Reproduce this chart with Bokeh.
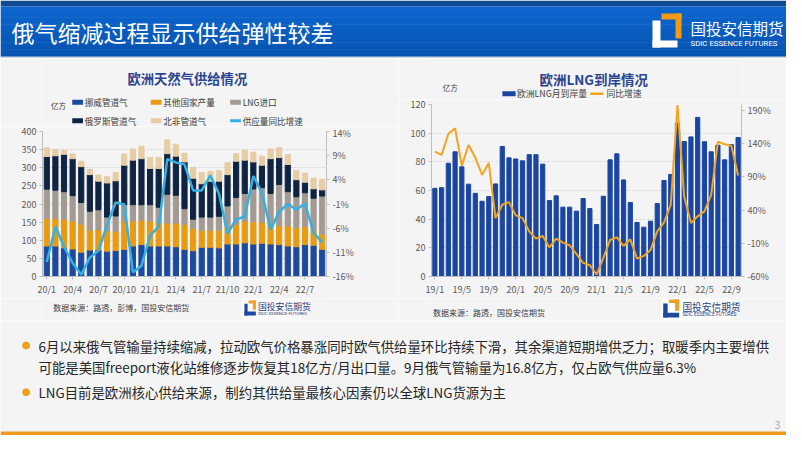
from bokeh.plotting import figure
from bokeh.layouts import column, row
from bokeh.models import Range1d, LinearAxis, FixedTicker, ColumnDataSource
from bokeh.core.properties import value
from bokeh.embed import file_html
from bokeh.resources import INLINE

FONT = "Noto Sans CJK SC"
BG = "#f4f4f4"

# ---------------- data: left chart (20/1 .. 22/9), 亿方 ----------------
norway = [84, 84, 79, 76, 67, 73, 73, 70, 71.5, 75, 84, 88, 84, 84, 84, 82, 75, 71,
          80.5, 80.5, 79, 89.6, 89.6, 93, 89.6, 91.4, 89.6, 88, 84, 82, 88, 86, 75]
other_prod = [76, 76, 78, 77, 77, 55, 56, 56, 52.5, 76, 69, 67, 69, 65, 63, 65, 69, 62,
              47, 47, 48.6, 45.4, 54.4, 60, 61.4, 57.6, 54.4, 52, 56, 53, 50, 41.6, 42]
lng_import = [81, 78, 77, 70, 60, 52, 55, 38, 43, 47, 45, 43, 45, 42, 80, 77, 43, 25,
              36.4, 36.4, 38.4, 59.6, 74, 76, 90.6, 96, 85, 114, 94, 85, 93, 88.4, 105]
russia = [90, 95, 103, 102, 99, 101, 79, 94, 97, 109, 123, 127, 100, 107, 112, 108, 129, 113,
          92, 99, 97, 86.4, 100, 92, 74.4, 62, 96, 74, 75, 47, 29, 26, 17]
north_africa = [24, 17, 11, 13, 15, 15, 17, 18, 23, 31, 31, 34, 30, 30, 38, 33, 24, 30,
                31, 27, 29, 33, 21, 27, 27, 25, 27, 28, 27, 25, 25, 29, 29]
supply_yoy = [-13, -5.7, -9.8, -13.2, -15.6, -12.1, -10.7, -5.3, -0.7, -1.1, -15.1, -13.8,
              -7.5, -5.7, 8.3, 7.6, 7.2, 1.8, 1.8, 4.9, 1.2, -7.1, -4.2, -3.6,
              4.8, 1.3, -6.3, -2.6, -1, -2.2, -0.9, -6.9, -9]
left_tick_pos = [0, 3, 6, 9, 12, 15, 18, 21, 24, 27, 30]
left_tick_labels = ["20/1", "20/4", "20/7", "20/10", "21/1", "21/4", "21/7",
                    "21/10", "22/1", "22/4", "22/7"]
left_y_ticks = [0, 50, 100, 150, 200, 250, 300, 350, 400]
left_pct_ticks = [-16, -11, -6, -1, 4, 9, 14]

# ---------------- data: right chart (19/1 .. 22/10) ----------------
lng_arrivals = [61.5, 62, 79, 87, 76.5, 64.4, 58, 52.5, 55.8, 64.6, 90.7, 82.8,
                82, 80.7, 85, 85, 78.4, 53, 56.3, 48.4, 48.4, 45.6, 54.4, 47.4,
                36.3, 56, 81.4, 85.6, 67.4, 51.6, 37.7, 34.4, 38.6, 50.9, 67, 71.2,
                107, 94.2, 97.4, 111, 94, 87, 91.6, 81.4, 92, 97]
lng_yoy = [128, 123, 155, 163, 107, 138, 119, 93, 111, 28, 48, 52,
           32, 28, 8, -3, 1, -16, -3, -9, -13, -26, -39.5, -43,
           -57, -32, -5, -1, -14, -4, -33, -29, -20, 8, 21, 48,
           198, 60, 20.5, 30.6, 38, 63, 143, 139, 137, 92]
right_tick_pos = [0, 4, 8, 12, 16, 20, 24, 28, 32, 36, 40, 44]
right_tick_labels = ["19/1", "19/5", "19/9", "20/1", "20/5", "20/9", "21/1",
                     "21/5", "21/9", "22/1", "22/5", "22/9"]
right_y_ticks = [0, 20, 40, 60, 80, 100, 120]
right_pct_ticks = [-60, -10, 40, 90, 140, 190]

# colours
C_NOR, C_OTH, C_LNG, C_RUS, C_NAF = "#1d4a9e", "#e89b10", "#a39a93", "#0f2442", "#e6cda4"
C_SUP = "#33b1e3"
C_RBAR, C_RLINE = "#1a46a2", "#f3a41d"
C_TITLE = "#2a4592"
C_TXT = "#404040"


def canvas(w, h, bg=BG):
    p = figure(width=w, height=h, x_range=Range1d(0, w), y_range=Range1d(h, 0),
               output_backend="svg", toolbar_location=None, x_axis_type=None,
               y_axis_type=None, min_border=0, min_border_left=0, min_border_right=0,
               min_border_top=0, min_border_bottom=0,
               background_fill_color=bg, border_fill_color=bg, outline_line_color=None)
    p.grid.visible = False
    return p


def txt(p, x, y, s, size, color=C_TXT, align="left", bold=False, font=FONT):
    p.text(x=[x], y=[y], text=[s], text_font=value(font), text_font_size=f"{size}px",
           text_color=color, text_align=align, text_baseline="middle",
           text_font_style="bold" if bold else "normal")


def box(p, l, r, t, b, color):
    p.quad(left=[l], right=[r], top=[t], bottom=[b], fill_color=color, line_color=None)


def small_logo(p, x0, y0, w, h, tx, ty, fs):
    box(p, x0, x0 + 0.28 * w, y0 + 0.22 * h, y0 + h, "#1d4a9e")
    box(p, x0, x0 + w, y0 + 0.74 * h, y0 + h, "#1d4a9e")
    box(p, x0 + 0.36 * w, x0 + w, y0, y0 + 0.2 * h, "#f0a020")
    box(p, x0 + 0.74 * w, x0 + w, y0, y0 + 0.62 * h, "#f0a020")
    txt(p, tx, ty, "国投安信期货", fs, "#1f3f7f")
    txt(p, tx, ty + fs * 0.8, "SDIC ESSENCE FUTURES", fs * 0.5, "#1f3f7f", font="Roboto")


def style_axis(ax):
    ax.axis_line_color = "#bfbfbf"
    ax.major_tick_line_color = "#bfbfbf"
    ax.major_tick_out = 3
    ax.major_tick_in = 0
    ax.minor_tick_out = 0
    ax.minor_tick_in = 0
    ax.major_label_standoff = 3
    ax.major_label_text_font = FONT
    ax.major_label_text_font_size = "9px"
    ax.major_label_text_color = "#595959"


# ---------------- header (page y 0-58) ----------------
W = 786
header = canvas(W, 58)
box(header, 0, W, 0, 6, "#0d4a8f")
strips = 14
for i in range(strips):
    t = i / (strips - 1)
    r_ = int(12 + (7 - 12) * t)
    g_ = int(102 + (84 - 102) * t)
    b_ = int(206 + (178 - 206) * t)
    box(header, 0, W, 6 + i * 50 / strips, 6 + (i + 1) * 50 / strips + 0.5,
        "#%02x%02x%02x" % (r_, g_, b_))
box(header, 0, W, 56, 58, "#d0d6df")
txt(header, 11, 31.5, "俄气缩减过程显示供给弹性较差", 23, "white")
# header logo
box(header, 652, 660, 20, 47, "white")
box(header, 652, 677, 40, 47, "white")
box(header, 661, 681, 13, 19, "#f39a12")
box(header, 675, 681, 13, 38, "#f39a12")
txt(header, 690, 27, "国投安信期货", 15.5, "white")
txt(header, 690, 43, "SDIC ESSENCE FUTURES", 7.8, "white", font="Roboto")

# ---------------- left panel (page x 0-398) ----------------
LW = 398
top_l = canvas(LW, 68)            # page y 58-126
txt(top_l, 203, 20, "欧洲天然气供给情况", 13.3, C_TITLE, align="center", bold=True)
txt(top_l, 12, 47, "亿方", 7.5)
leg_rows = [
    [("挪威管道气", C_NOR, "bar"), ("其他国家产量", C_OTH, "bar"), ("LNG进口", C_LNG, "bar")],
    [("俄罗斯管道气", C_RUS, "bar"), ("北非管道气", C_NAF, "bar"), ("供应量同比增速", C_SUP, "line")],
]
leg_x = [41.7, 151.7, 263]
leg_y = [43.7, 62.3]
for ri, items in enumerate(leg_rows):
    for ci, (name, col, kind) in enumerate(items):
        x0, y0 = leg_x[ci], leg_y[ri]
        if kind == "bar":
            box(top_l, x0, x0 + 15, y0 - 2.5, y0 + 2.5, col)
        else:
            top_l.line([x0, x0 + 15], [y0, y0], line_color=col, line_width=3)
        txt(top_l, x0 + 17.5, y0, name, 8.6)

pl = figure(width=LW, height=172, x_range=Range1d(-0.5, 32.5), y_range=Range1d(0, 400),
            output_backend="svg", toolbar_location=None,
            min_border_left=42, min_border_right=72, min_border_top=5, min_border_bottom=20,
            background_fill_color=BG, border_fill_color=BG, outline_line_color=None)
src_l = ColumnDataSource(dict(x=list(range(len(norway))), norway=norway, other=other_prod,
                              lng=lng_import, russia=russia, nafrica=north_africa))
pl.vbar_stack(["norway", "other", "lng", "russia", "nafrica"], x="x", width=0.6,
              color=[C_NOR, C_OTH, C_LNG, C_RUS, C_NAF], source=src_l)
pl.extra_y_ranges = {"pct": Range1d(-16, 14)}
pl.line(list(range(len(supply_yoy))), supply_yoy, y_range_name="pct",
        line_color=C_SUP, line_width=2.5)
pl.yaxis[0].ticker = FixedTicker(ticks=left_y_ticks)
pl.xaxis[0].ticker = FixedTicker(ticks=left_tick_pos)
pl.xaxis[0].major_label_overrides = dict(zip(left_tick_pos, left_tick_labels))
ax_rl = LinearAxis(y_range_name="pct", ticker=FixedTicker(ticks=left_pct_ticks),
                   major_label_overrides={t: f"{t}%" for t in left_pct_ticks})
pl.add_layout(ax_rl, "right")
for ax in [pl.xaxis[0], pl.yaxis[0], ax_rl]:
    style_axis(ax)
pl.xgrid.visible = False
pl.ygrid.grid_line_color = "#d4d4d4"
pl.ygrid.grid_line_dash = "2 2"

bot_l = canvas(LW, 22)            # page y 298-320
txt(bot_l, 15, 9, "数据来源：路透，彭博，国投安信期货", 8)
box(bot_l, 279, 362, 0, 22, "#fafafa")
small_logo(bot_l, 283, 2, 16, 15, 302, 7.5, 8.8)

# ---------------- right panel (page x 398-786) ----------------
RW = W - LW
top_r = canvas(RW, 41)            # page y 58-99
txt(top_r, 203, 20, "欧洲LNG到岸情况", 13.5, C_TITLE, align="center", bold=True)
txt(top_r, 14, 28.7, "亿方", 7.5)
box(top_r, 88.7, 105.3, 32.8, 37.8, C_RBAR)
txt(top_r, 107, 35.3, "欧洲LNG月到岸量", 8.8)
top_r.line([198.7, 215.3], [35.3, 35.3], line_color=C_RLINE, line_width=2.5)
txt(top_r, 219, 35.3, "同比增速", 8.8)

pr = figure(width=RW, height=199, x_range=Range1d(-0.5, 45.5), y_range=Range1d(0, 120),
            output_backend="svg", toolbar_location=None,
            min_border_left=33, min_border_right=45, min_border_top=5, min_border_bottom=21,
            background_fill_color=BG, border_fill_color=BG, outline_line_color=None)
xr = list(range(len(lng_arrivals)))
pr.vbar(x=xr, top=lng_arrivals, width=0.62, color=C_RBAR)
pr.extra_y_ranges = {"pct": Range1d(-60, 199)}
pr.line(list(range(len(lng_yoy))), lng_yoy, y_range_name="pct", line_color=C_RLINE, line_width=2)
pr.yaxis[0].ticker = FixedTicker(ticks=right_y_ticks)
pr.xaxis[0].ticker = FixedTicker(ticks=right_tick_pos)
pr.xaxis[0].major_label_overrides = dict(zip(right_tick_pos, right_tick_labels))
ax_rr = LinearAxis(y_range_name="pct", ticker=FixedTicker(ticks=right_pct_ticks),
                   major_label_overrides={t: f"{t}%" for t in right_pct_ticks})
pr.add_layout(ax_rr, "right")
for ax in [pr.xaxis[0], pr.yaxis[0], ax_rr]:
    style_axis(ax)
pr.xgrid.visible = False
pr.ygrid.grid_line_color = "#d4d4d4"
pr.ygrid.grid_line_dash = "2 2"

bot_r = canvas(RW, 22)            # page y 298-320
txt(bot_r, 2, 13.7, "数据来源：路透，国投安信期货", 8)
box(bot_r, 288, 375, 0, 22, "white")
small_logo(bot_r, 290, 1, 20, 18, 314, 8.2, 9.7)

# ---------------- bottom text (page y 320-435) ----------------
text_fig = canvas(W, 115)
bullets = [
    (25.0, "6月以来俄气管输量持续缩减，拉动欧气价格暴涨同时欧气供给量环比持续下滑，其余渠道短期增供乏力；取暖季内主要增供", True),
    (46.7, "可能是美国freeport液化站维修逐步恢复其18亿方/月出口量。9月俄气管输量为16.8亿方，仅占欧气供应量6.3%", False),
    (71.7, "LNG目前是欧洲核心供给来源，制约其供给量最核心因素仍以全球LNG货源为主", True),
]
for y, s, dot in bullets:
    if dot:
        text_fig.scatter([25.6], [y], marker="circle", size=7, color="#f0a020")
    txt(text_fig, 38, y, s, 13.4, "#262626")
txt(text_fig, 777, 104, "3", 10, "#a6a6a6", align="center")
box(text_fig, 0, W, 111, 115, "#ef9a1e")

layout = column(header,
                row(column(top_l, pl, bot_l, spacing=0),
                    column(top_r, pr, bot_r, spacing=0), spacing=0),
                text_fig, spacing=0)

open("out.html", "w").write(file_html(layout, INLINE))
